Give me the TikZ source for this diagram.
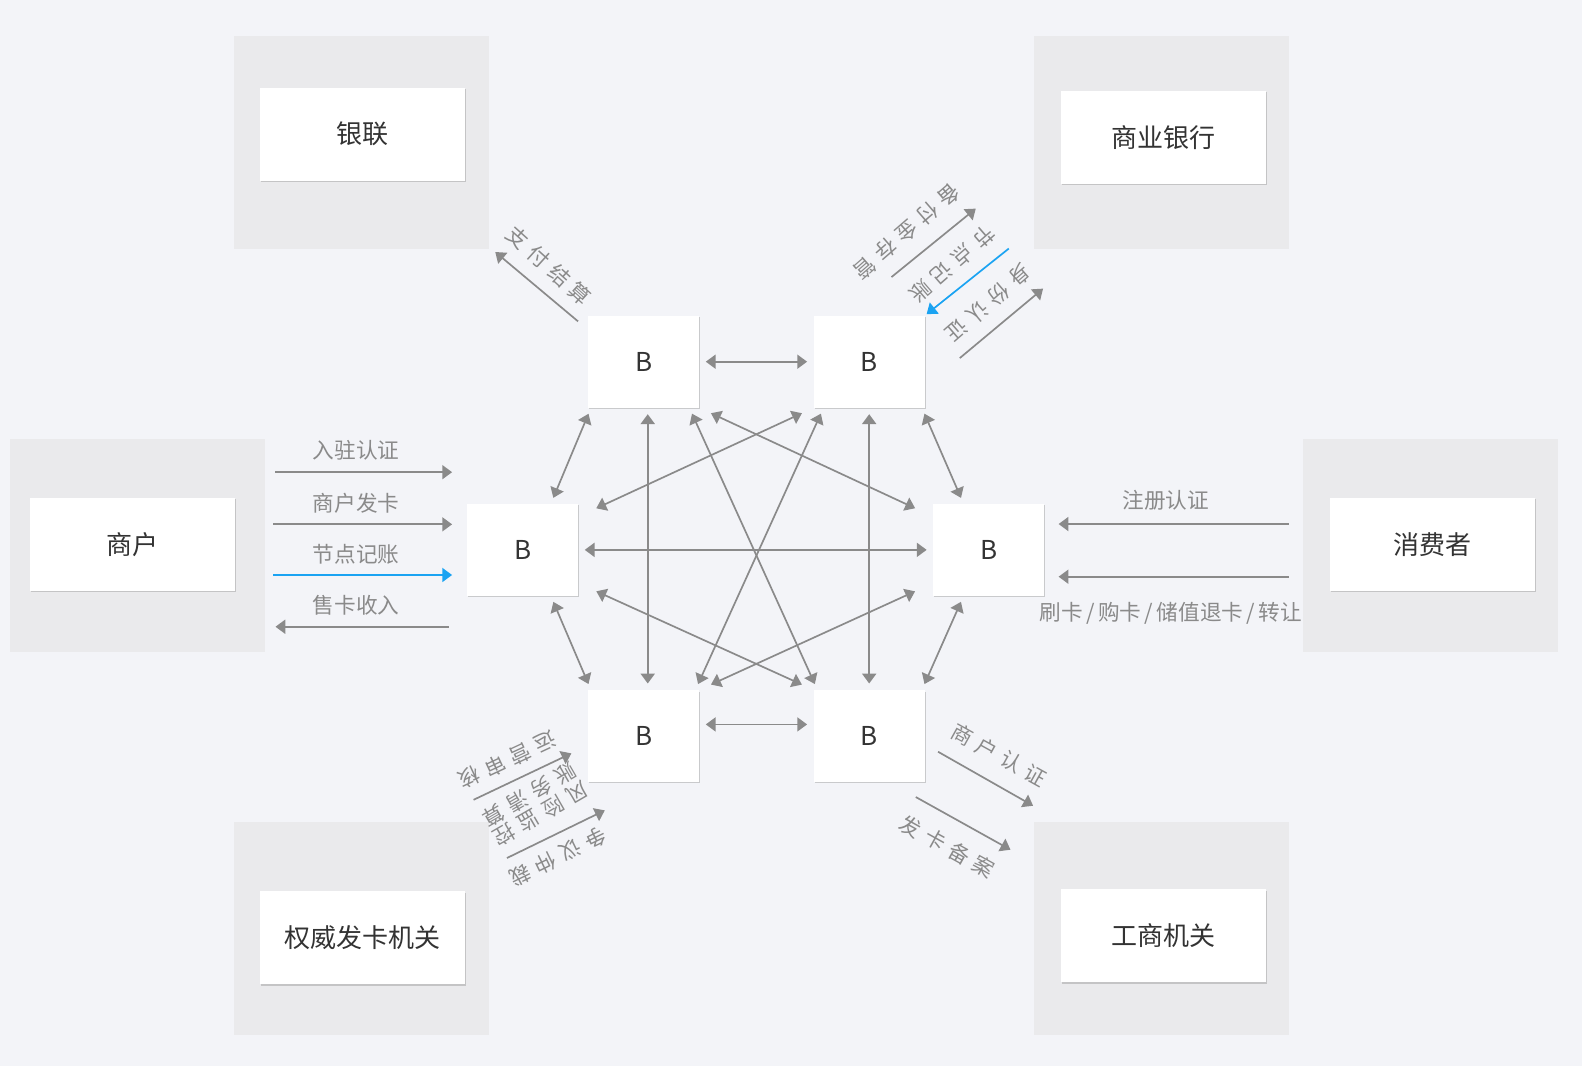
\documentclass[tikz,border=0pt]{standalone}
\usepackage{fontspec}
\setmainfont{Noto Sans CJK SC}
\newfontfamily\spacedfont[LetterSpace=32]{Noto Sans CJK SC}
\usetikzlibrary{arrows.meta, shadows}

\definecolor{bgcol}{HTML}{F3F4F8}
\definecolor{panelcol}{HTML}{EAEAEC}
\definecolor{linecol}{HTML}{8A8A8A}
\definecolor{bluecol}{HTML}{1AA3F2}
\definecolor{lblcol}{HTML}{8A8A8A}
\definecolor{darkcol}{HTML}{333333}
\newcommand\px{0.02522cm}
\newcommand\sep{\hspace{.16em}/\hspace{.16em}}

\begin{document}
\begin{tikzpicture}[x=\px, y=-\px,
  panel/.style={fill=panelcol, minimum width=253*\px, minimum height=211*\px, inner sep=0pt},
  card/.style={fill=white, minimum width=203*\px, minimum height=92*\px, inner sep=0pt,
    text=darkcol, font=\fontsize{18.5}{22}\selectfont,
    drop shadow={shadow xshift=0.7pt, shadow yshift=-1pt, opacity=.4, fill=black!45}},
  bnode/.style={card, minimum width=110*\px, minimum height=91*\px},
  link/.style={draw=linecol, line width=1.2pt,
    {Triangle[length=7pt,width=10pt]}-{Triangle[length=7pt,width=10pt]},
    shorten <=4.5pt, shorten >=4.5pt},
  flow/.style={draw=linecol, line width=1.2pt, -{Triangle[length=7pt,width=10pt]}},
  lbl/.style={text=lblcol, inner sep=0pt, font=\fontsize{15.4}{18}\selectfont},
  tilt/.style={lbl, font=\spacedfont\fontsize{15}{17}\selectfont, align=center}]
  \useasboundingbox (0,0) rectangle (1568,1057);
  \fill[bgcol] (0,0) rectangle (1568,1057);

  % panels
  \node[panel] (pyl) at (358.5,141.5) {};
  \node[panel] (psy) at (1151.5,141.5) {};
  \node[panel] (psh) at (136.5,541) {};
  \node[panel] (pxf) at (1417.5,541) {};
  \node[panel] (pqw) at (358.5,920.5) {};
  \node[panel] (pgs) at (1151.5,920.5) {};

  \node[card] (yl) at (359,133) {银联};
  \node[card] (sy) at (1153.5,136) {商业银行};
  \node[card] (sh) at (131.5,539.5) {商户};
  \node[card] (xf) at (1419.5,539.5) {消费者};
  \node[card] (qw) at (359,929.5) {权威发卡机关};
  \node[card] (gs) at (1153.5,927.5) {工商机关};

  % B nodes
  \node[bnode] (b1) at (638,358.5) {B};
  \node[bnode] (b2) at (861.5,358.5) {B};
  \node[bnode] (b3) at (518,545) {B};
  \node[bnode] (b4) at (980,545) {B};
  \node[bnode] (b5) at (638,729.5) {B};
  \node[bnode] (b6) at (861.5,729.5) {B};

  % network
  \draw[link] (b1) -- (b2);
  \draw[link] ([yshift=11.5*\px]b5.east) -- ([yshift=11.5*\px]b6.west);
  \draw[link] (b3) -- (b4);
  \draw[link] ([xshift=4*\px]b1.south) -- ([xshift=4*\px]b5.north);
  \draw[link] (b2) -- (b6);
  \draw[link] ([xshift=3*\px]b1.south west) -- ([xshift=28*\px]b3.north);
  \draw[link] ([xshift=-3*\px]b2.south east) -- ([xshift=-25*\px]b4.north);
  \draw[link] ([xshift=28*\px]b3.south) -- ([xshift=3*\px]b5.north west);
  \draw[link] ([xshift=-25*\px]b4.south) -- ([xshift=-3*\px]b6.north east);
  \draw[link, shorten <=9pt, shorten >=14pt] (b1.south east) -- ([yshift=33*\px]b4.west);
  \draw[link, shorten <=9pt, shorten >=14pt] (b2.south west) -- ([yshift=33*\px]b3.east);
  \draw[link, shorten <=14pt, shorten >=9pt] ([yshift=-33*\px]b3.east) -- (b6.north west);
  \draw[link, shorten <=14pt, shorten >=9pt] ([yshift=-33*\px]b4.west) -- (b5.north east);
  \draw[link] ([xshift=-10*\px]b1.south east) -- ([xshift=4*\px]b6.north west);
  \draw[link] ([xshift=10*\px]b2.south west) -- ([xshift=-4*\px]b5.north east);

  % 商户
  \draw[flow, shorten <=7pt, shorten >=10.5pt] ([yshift=73*\px]psh.east)
    -- node[lbl, pos=.45, yshift=15.5pt] (rz) {入驻认证} ([yshift=77*\px]b3.west);
  \draw[flow, shorten <=5.5pt, shorten >=10.5pt] ([yshift=21.3*\px]psh.east)
    -- node[lbl, pos=.45, yshift=15pt] (fk) {商户发卡} ([yshift=25.3*\px]b3.west);
  \draw[flow, draw=bluecol, shorten <=5.5pt, shorten >=10.5pt] ([yshift=-28.9*\px]psh.east)
    -- node[lbl, pos=.45, yshift=15pt] (jz) {节点记账} ([yshift=-24.9*\px]b3.west);
  \draw[flow, shorten <=13pt, shorten >=7pt] ([yshift=-76.2*\px]b3.west)
    -- node[lbl, pos=.55, yshift=15pt] (sk) {售卡收入} ([yshift=-80.2*\px]psh.east);

  % 消费者
  \draw[flow, shorten <=9.5pt, shorten >=10pt] ([yshift=21.6*\px]pxf.west)
    -- node[lbl, pos=.53, yshift=17pt] (zc) {注册认证} ([yshift=25.6*\px]b4.east);
  \draw[flow, shorten <=9.5pt, shorten >=10pt] ([yshift=-30.6*\px]pxf.west)
    -- node[lbl, pos=.51, yshift=-26pt] (sc) {刷卡\sep 购卡\sep 储值退卡\sep 转让} ([yshift=-26.6*\px]b4.east);

  % 银联
  \draw[flow] ([xshift=-9.8*\px, yshift=-5.8*\px]b1.north west)
    -- ([xshift=5.6*\px, yshift=-2.5*\px]pyl.south east);
  \node[tilt, rotate=-42] (zf) at (544.3,263.5) {支付结算};

  % 商业银行
  \draw[flow] ([xshift=-33.2*\px, yshift=38.1*\px]b2.north east)
    -- ([xshift=-57.6*\px, yshift=40.5*\px]psy.south west);
  \draw[flow, draw=bluecol, shorten >=1.5pt] ([xshift=-24.9*\px, yshift=0.9*\px]psy.south west)
    -- (b2.north east);
  \draw[flow] ([xshift=34.5*\px, yshift=-42.2*\px]b2.north east)
    -- ([xshift=9.1*\px, yshift=-38.8*\px]psy.south west);
  \node[tilt, rotate=221] (bf) at (898.7,229.6) {备付金存管};
  \node[tilt, rotate=221] (jd) at (944.1,261.9) {节点记账};
  \node[tilt, rotate=221] (sf) at (979.6,300.6) {身份认证};

  % 权威发卡机关
  \draw[flow] ([xshift=-15.9*\px, yshift=22*\px]pqw.north east)
    -- ([xshift=-16.4*\px, yshift=-17.2*\px]b5.west);
  \draw[flow] ([xshift=17.2*\px, yshift=-35.7*\px]pqw.north east)
    -- ([xshift=16.7*\px, yshift=-27.9*\px]b5.south west);
  \node[tilt, rotate=205] (yy) at (503,753.3) {运营审核};
  \node[tilt, rotate=210, font=\spacedfont\fontsize{15}{16}\selectfont] (fx) at (530.5,797) {风险监控\\账务清算};
  \node[tilt, rotate=206] (zy) at (552.6,849.1) {争议仲裁};

  % 工商机关
  \draw[flow] ([xshift=13*\px, yshift=-15.6*\px]b6.east)
    -- ([xshift=-0.8*\px, yshift=16.1*\px]pgs.north west);
  \draw[flow] ([xshift=-9.1*\px, yshift=-14.7*\px]b6.south east)
    -- ([xshift=-23.2*\px, yshift=-27.5*\px]pgs.north west);
  \node[tilt, rotate=-29] (sr) at (990.4,748.4) {商户认证};
  \node[tilt, rotate=-29] (fb) at (939.2,839.2) {发卡备案};
\end{tikzpicture}
\end{document}
